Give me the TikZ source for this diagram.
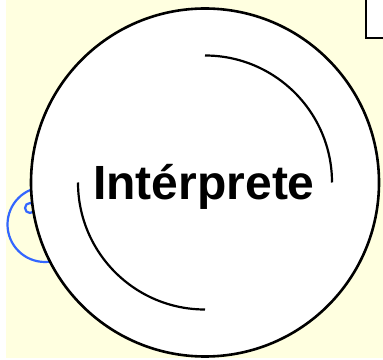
\documentclass[tikz,border=0pt]{standalone}
\usepackage{fontspec}
\setmainfont{Liberation Sans}
\definecolor{paleyellow}{RGB}{255,255,224}
\definecolor{ringblue}{RGB}{51,102,255}

\begin{document}
\begin{tikzpicture}[x=1pt, y=1pt,
        bg/.style    = {fill=paleyellow, draw=none},
        big/.style   = {draw, circle, line width=2.6pt, fill=white, minimum size=348pt, inner sep=0pt},
        ring/.style  = {draw=ringblue, line width=2.2pt},
        inner/.style = {line width=2.2pt},
        tag/.style   = {draw, line width=2.4pt, fill=white},
        word/.style  = {font=\fontsize{48}{52}\selectfont\bfseries}
    ]
        \useasboundingbox (0,0) rectangle (383,359);
        \clip (0,0) rectangle (383,359);
        \fill[bg] (6,1) rectangle (383,359);

        \draw[ring] (45,134.5) circle (37.5);
        \draw[ring] (30,151) circle (5);

        \node[big] (cyc) at (205,176.5) {};
        \draw[inner] ([yshift=127pt]cyc.center) arc[start angle=90, end angle=0, radius=127pt];
        \draw[inner] ([xshift=-127pt]cyc.center) arc[start angle=180, end angle=270, radius=127pt];

        \node[word, anchor=base] (lbl) at (204,159) {Intérprete};

        \draw[tag] (366,321) rectangle (395,364);
    \end{tikzpicture}
\end{document}
